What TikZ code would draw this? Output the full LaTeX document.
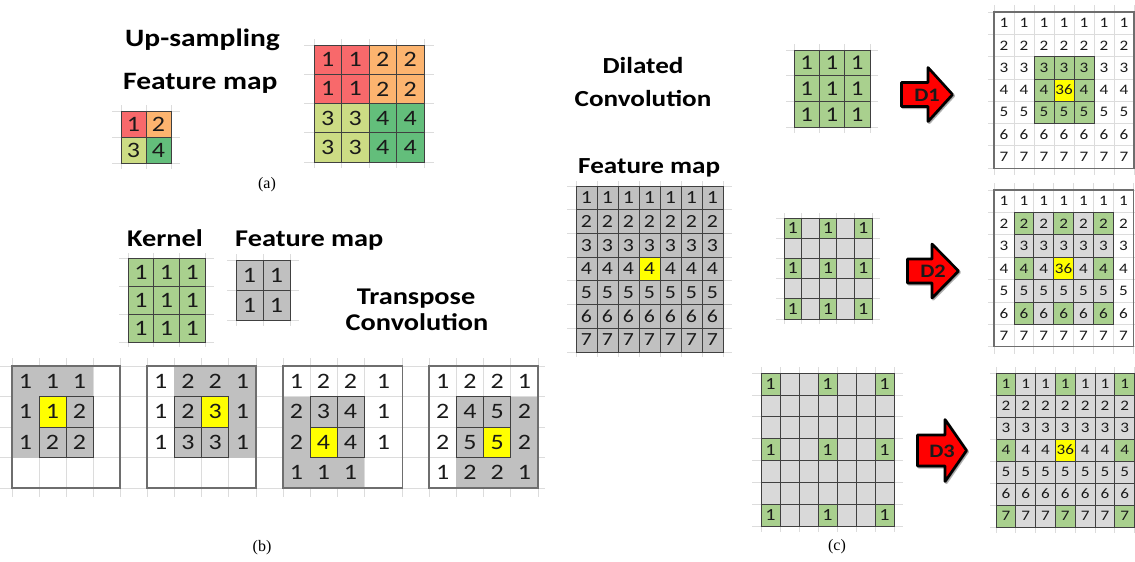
\documentclass[tikz,border=0pt]{standalone}
\usepackage{fontspec}
\setmainfont{Carlito}[FakeStretch=1.18]
\newfontfamily\capfont{Liberation Serif}

\definecolor{upred}{HTML}{F8696B}
\definecolor{uporange}{HTML}{FCB46F}
\definecolor{uplime}{HTML}{CCDC84}
\definecolor{upgreen}{HTML}{63BE7B}
\definecolor{kgreen}{HTML}{A9D08E}
\definecolor{mgrey}{HTML}{C0C0C0}
\definecolor{lgrey}{HTML}{D9D9D9}
\definecolor{hlyellow}{HTML}{FFFF00}
\definecolor{cellline}{HTML}{404040}
\definecolor{frameline}{HTML}{6E6E6E}
\definecolor{sheetline}{HTML}{DCDCDC}
\definecolor{arrowred}{HTML}{FF0000}
\definecolor{ink}{HTML}{1A1A1A}

\tikzset{
  cell/.style={inner sep=0pt, outer sep=0pt, text=ink, anchor=center},
  bordered/.style={draw=cellline, line width=0.8pt},
  kr/.style={bordered, fill=upred},
  ko/.style={bordered, fill=uporange},
  km/.style={bordered, fill=uplime},
  kG/.style={bordered, fill=upgreen},
  kg/.style={bordered, fill=kgreen},
  kb/.style={bordered, fill=mgrey},
  kl/.style={bordered, fill=lgrey},
  ky/.style={bordered, fill=hlyellow},
  kw/.style={},
  kind/.code={\edef\kindtmp{/tikz/k#1}\expandafter\pgfkeysalso\expandafter{\kindtmp}},
  sheet/.style={draw=sheetline, line width=0.7pt},
  frame/.style={draw=frameline, line width=1.1pt},
  headA/.style={inner sep=0pt, text=black, font=\bfseries\fontsize{25}{30}\selectfont},
  headB/.style={inner sep=0pt, text=black, font=\bfseries\fontsize{24}{28}\selectfont},
  headC/.style={inner sep=0pt, text=black, font=\bfseries\fontsize{23}{27}\selectfont},
  capt/.style={inner sep=0pt, text=black, font=\capfont\fontsize{16}{18}\selectfont},
  arrowbody/.style={fill=arrowred, draw=black, line width=2.6pt, line join=round},
  arrowshadow/.style={fill=black, draw=black, line width=2.6pt, line join=round, opacity=0.3},
  arrowlabel/.style={inner sep=0pt, text=ink, font=\bfseries\fontsize{19}{20}\selectfont},
  big/.style={font=\fontsize{22}{22}\selectfont},
  mid/.style={font=\fontsize{21}{21}\selectfont},
  fm/.style={font=\fontsize{18.5}{18.5}\selectfont},
  sm/.style={font=\fontsize{17}{17}\selectfont},
  tiny/.style={font=\fontsize{14.5}{14.5}\selectfont},
}

% grid of cells: name, x0, y0, cell width, cell height, text style, rows of kind/value
\newcommand\matgrid[7]{%
  \foreach \rowlist [count=\ri from 0] in {#7} {%
    \foreach \kd/\vl [count=\ci from 0] in \rowlist {%
      \node[cell, kind=\kd, #6, minimum width=#4pt, minimum height=#5pt]
        (#1-\ri-\ci) at ({#2+(\ci+0.5)*#4}, {#3+(\ri+0.5)*#5}) {\vl};
    }%
  }%
}

% faint spreadsheet lines behind a grid: x0, y0, w, h, cols, rows, overhang x, overhang y
\newcommand\sheetgrid[8]{%
  \foreach \i in {0,...,#5} \draw[sheet] ({#1+\i*#3},{#2-#8}) -- ({#1+\i*#3},{#2+#6*#4+#8});
  \foreach \j in {0,...,#6} \draw[sheet] ({#1-#7},{#2+\j*#4}) -- ({#1+#5*#3+#7},{#2+\j*#4});
}

% block arrow: name, tail x, neck x, tip x, centre y, shaft half, head half, label
\newcommand\blockarrow[8]{%
  \path[arrowshadow, shift={(1.3,1.3)}] (#2,{#5-#6}) -- (#3,{#5-#6}) -- (#3,{#5-#7}) -- (#4,#5)
    -- (#3,{#5+#7}) -- (#3,{#5+#6}) -- (#2,{#5+#6}) -- cycle;
  \path[arrowbody] (#2,{#5-#6}) -- (#3,{#5-#6}) -- (#3,{#5-#7}) -- (#4,#5)
    -- (#3,{#5+#7}) -- (#3,{#5+#6}) -- (#2,{#5+#6}) -- cycle;
  \node[arrowlabel] (#1) at ({(#2+#4)/2},{#5+0.5}) {#8};
}

\begin{document}
\begin{tikzpicture}[x=1pt, y=-1pt]
\useasboundingbox (0,0) rectangle (1135,562);
\fill[white] (0,0) rectangle (1135,562);

% ---------- spreadsheet background lines ----------
\sheetgrid{121}{111}{25}{26}{2}{2}{9}{6}
\sheetgrid{314}{45}{27.5}{29.25}{4}{4}{10}{6}
\sheetgrid{128}{258}{25.7}{28}{3}{3}{9}{5}
\sheetgrid{236}{260}{27}{30}{2}{2}{9}{6}
\foreach \j in {0,...,4} \draw[sheet] (0,{366+\j*30.5}) -- (545,{366+\j*30.5});
\foreach \xx in {12,39,66,93,120,147,174.25,201.5,228.75,256,283,310,337,364,402.7,429,456.25,483.5,510.75,538}
  \draw[sheet] (\xx,358) -- (\xx,497);
\sheetgrid{576}{186}{21}{23.7}{7}{7}{9}{5}
\sheetgrid{794}{50}{25.3}{25.7}{3}{3}{8}{6}
\sheetgrid{994}{12}{20}{22.3}{7}{7}{6}{7}
\sheetgrid{784}{218}{17.6}{20.2}{5}{5}{8}{5}
\sheetgrid{994}{190}{19.9}{22.4}{7}{7}{6}{7}
\sheetgrid{761}{373}{19}{21.9}{7}{7}{9}{6}
\sheetgrid{996}{373}{19.8}{22}{7}{7}{6}{6}

% ---------- (a) up-sampling ----------
\node[headA, anchor=base west] (upsampling) at (125,46) {Up-sampling};
\node[headA, anchor=base west] (fmapA) at (123,89) {Feature map};
\matgrid{upin}{121}{111}{25}{26}{big}{{r/1,o/2},{m/3,G/4}}
\matgrid{upout}{314}{45}{27.5}{29.25}{big}{%
  {r/1,r/1,o/2,o/2},{r/1,r/1,o/2,o/2},{m/3,m/3,G/4,G/4},{m/3,m/3,G/4,G/4}}
\node[capt] (capA) at (267,185) {(a)};

% ---------- (b) transpose convolution ----------
\node[headB, anchor=base west] (kernelB) at (127,246) {Kernel};
\node[headB, anchor=base west] (fmapB) at (235,246) {Feature map};
\node[headB, anchor=base] (transp) at (416,304) {Transpose};
\node[headB, anchor=base] (convB) at (417,330) {Convolution};
\matgrid{kern}{128}{258}{25.7}{28}{big}{{g/1,g/1,g/1},{g/1,g/1,g/1},{g/1,g/1,g/1}}
\matgrid{tin}{236}{260}{27}{30}{big}{{b/1,b/1},{b/1,b/1}}

% shaded kernel footprints
\fill[mgrey] (12,366) rectangle (93,457.5);
\fill[mgrey] (174.25,366) rectangle (256,457.5);
\fill[mgrey] (283,396.5) rectangle (364,488);
\fill[mgrey] (456.25,396.5) rectangle (538,488);

\matgrid{tc1}{12}{366}{27}{30.5}{big}{%
  {w/1,w/1,w/1,w/{}},{w/1,y/1,b/2,w/{}},{w/1,b/2,b/2,w/{}},{w/{},w/{},w/{},w/{}}}
\matgrid{tc2}{147}{366}{27.25}{30.5}{big}{%
  {w/1,w/2,w/2,w/1},{w/1,b/2,y/3,w/1},{w/1,b/3,b/3,w/1},{w/{},w/{},w/{},w/{}}}
\matgrid{tc3}{283}{366}{27}{30.5}{big}{%
  {w/1,w/2,w/2},{w/2,b/3,b/4},{w/2,y/4,b/4},{w/1,w/1,w/1}}
\matgrid{tc3r}{364}{366}{38.7}{30.5}{big}{{w/1},{w/1},{w/1},{w/{}}}
\matgrid{tc4}{429}{366}{27.25}{30.5}{big}{%
  {w/1,w/2,w/2,w/1},{w/2,b/4,b/5,w/2},{w/2,b/5,y/5,w/2},{w/1,w/2,w/2,w/1}}
\draw[frame] (12,366) rectangle (120,488);
\draw[frame] (147,366) rectangle (256,488);
\draw[frame] (283,366) rectangle (402.7,488);
\draw[frame] (429,366) rectangle (538,488);
\node[capt] (capB) at (262,548) {(b)};

% ---------- (c) dilated convolution ----------
\node[headC, anchor=base] (dilated) at (643,73) {Dilated};
\node[headC, anchor=base] (convC) at (643,106) {Convolution};
\node[headC, anchor=base west] (fmapC) at (578,173) {Feature map};
\matgrid{dfm}{576}{186}{21}{23.7}{fm}{%
  {b/1,b/1,b/1,b/1,b/1,b/1,b/1},
  {b/2,b/2,b/2,b/2,b/2,b/2,b/2},
  {b/3,b/3,b/3,b/3,b/3,b/3,b/3},
  {b/4,b/4,b/4,y/4,b/4,b/4,b/4},
  {b/5,b/5,b/5,b/5,b/5,b/5,b/5},
  {b/6,b/6,b/6,b/6,b/6,b/6,b/6},
  {b/7,b/7,b/7,b/7,b/7,b/7,b/7}}

% rate 1
\matgrid{k1}{794}{50}{25.3}{25.7}{mid}{{g/1,g/1,g/1},{g/1,g/1,g/1},{g/1,g/1,g/1}}
\blockarrow{d1}{901.5}{928}{952.5}{94.5}{12}{27}{D1}
\matgrid{o1}{994}{12}{20}{22.3}{tiny}{%
  {w/1,w/1,w/1,w/1,w/1,w/1,w/1},
  {w/2,w/2,w/2,w/2,w/2,w/2,w/2},
  {w/3,w/3,g/3,g/3,g/3,w/3,w/3},
  {w/4,w/4,g/4,y/36,g/4,w/4,w/4},
  {w/5,w/5,g/5,g/5,g/5,w/5,w/5},
  {w/6,w/6,w/6,w/6,w/6,w/6,w/6},
  {w/7,w/7,w/7,w/7,w/7,w/7,w/7}}
\draw[frame] (994,12) rectangle (1134,168.1);

% rate 2
\matgrid{k2}{784}{218}{17.6}{20.2}{sm}{%
  {g/1,l/{},g/1,l/{},g/1},
  {l/{},l/{},l/{},l/{},l/{}},
  {g/1,l/{},g/1,l/{},g/1},
  {l/{},l/{},l/{},l/{},l/{}},
  {g/1,l/{},g/1,l/{},g/1}}
\blockarrow{d2}{907.5}{932}{958.5}{271}{12}{27}{D2}
\matgrid{o2}{994}{190}{19.9}{22.4}{tiny}{%
  {w/1,w/1,w/1,w/1,w/1,w/1,w/1},
  {w/2,g/2,l/2,g/2,l/2,g/2,w/2},
  {w/3,l/3,l/3,l/3,l/3,l/3,w/3},
  {w/4,g/4,l/4,y/36,l/4,g/4,w/4},
  {w/5,l/5,l/5,l/5,l/5,l/5,w/5},
  {w/6,g/6,l/6,g/6,l/6,g/6,w/6},
  {w/7,w/7,w/7,w/7,w/7,w/7,w/7}}
\draw[frame] (994,190) rectangle (1133.3,346.8);

% rate 3
\matgrid{k3}{761}{373}{19}{21.9}{sm}{%
  {g/1,l/{},l/{},g/1,l/{},l/{},g/1},
  {l/{},l/{},l/{},l/{},l/{},l/{},l/{}},
  {l/{},l/{},l/{},l/{},l/{},l/{},l/{}},
  {g/1,l/{},l/{},g/1,l/{},l/{},g/1},
  {l/{},l/{},l/{},l/{},l/{},l/{},l/{}},
  {l/{},l/{},l/{},l/{},l/{},l/{},l/{}},
  {g/1,l/{},l/{},g/1,l/{},l/{},g/1}}
\blockarrow{d3}{917.5}{945}{966.5}{450.5}{15.5}{31}{D3}
\matgrid{o3}{996}{373}{19.8}{22}{tiny}{%
  {g/1,l/1,l/1,g/1,l/1,l/1,g/1},
  {l/2,l/2,l/2,l/2,l/2,l/2,l/2},
  {l/3,l/3,l/3,l/3,l/3,l/3,l/3},
  {g/4,l/4,l/4,y/36,l/4,l/4,g/4},
  {l/5,l/5,l/5,l/5,l/5,l/5,l/5},
  {l/6,l/6,l/6,l/6,l/6,l/6,l/6},
  {g/7,l/7,l/7,g/7,l/7,l/7,g/7}}
\node[capt] (capC) at (837,547) {(c)};
\end{tikzpicture}
\end{document}
